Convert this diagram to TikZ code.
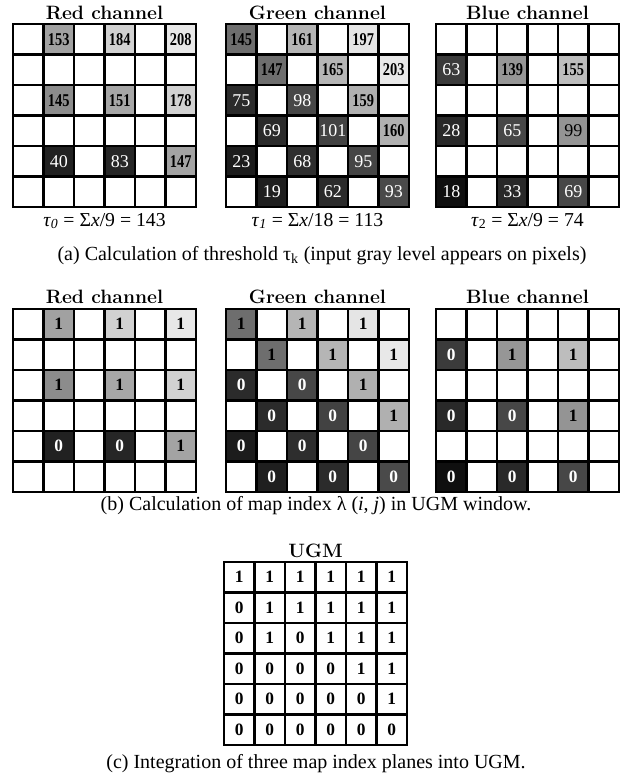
\documentclass[tikz,border=0pt]{standalone}
\usepackage{fontspec}
\newfontfamily\timesrm{Liberation Serif}
\newfontfamily\timescond[FakeStretch=0.8]{Liberation Serif}
\usetikzlibrary{positioning}

% one 6x6 window, cell side 30.5 px, origin at the top left corner
\newcommand{\pixgrid}{%
  \foreach \k in {0,...,6} {
    \draw[gridline] (\k*30.5,0) -- (\k*30.5,-183);
    \draw[gridline] (0,-\k*30.5) -- (183,-\k*30.5);
  }%
}

\tikzset{
  gridline/.style={line width=1.8pt, line cap=rect},
  chtitle/.style={anchor=base, inner sep=0pt, font=\fontsize{14.5}{16}\selectfont\bfseries},
  tautext/.style={anchor=base, inner sep=0pt, font=\timesrm\fontsize{14.8}{16}\selectfont},
  captext/.style={anchor=base, inner sep=0pt, font=\timesrm\fontsize{15}{17}\selectfont},
  numhi/.style={inner sep=0pt, font=\timescond\fontsize{13.5}{14}\selectfont\bfseries},
  numlo/.style={inner sep=0pt, text=white, font=\timesrm\fontsize{13.5}{14}\selectfont},
  numdk/.style={inner sep=0pt, font=\timesrm\fontsize{13.5}{14}\selectfont},
  bithi/.style={inner sep=0pt, font=\timesrm\fontsize{13}{14}\selectfont\bfseries},
  bitlo/.style={inner sep=0pt, text=white, font=\timesrm\fontsize{13}{14}\selectfont\bfseries}
}

\begin{document}
\begin{tikzpicture}[x=0.75pt, y=0.75pt]
\useasboundingbox (0,0) rectangle (632,-776);

%% (a) threshold
\begin{scope}[shift={(13,-24)}]
  \foreach \c/\r/\g/\v/\s in {1/0/37/153/numhi, 3/0/18/184/numhi, 5/0/9/208/numhi,
      1/2/45/145/numhi, 3/2/35/151/numhi, 5/2/18/178/numhi,
      1/4/87/40/numlo, 3/4/85/83/numlo, 5/4/36/147/numhi} {
    \fill[black!\g] (\c*30.5,-\r*30.5) rectangle ++(30.5,-30.5);
    \node[\s] (ra-\c-\r) at (\c*30.5+15.25,-\r*30.5-15.25) {\v};
  }
  \pixgrid
  \node[chtitle] (ra-title) at (91.5,5) {Red channel};
  \node[tautext] (ra-tau) at (91.5,-202) {\textit{τ}\textsubscript{\textit{0}} = Σ\textit{x}/9 = 143};
\end{scope}

\begin{scope}[shift={(226,-24)}]
  \foreach \c/\r/\g/\v/\s in {0/0/57/145/numhi, 2/0/29/161/numhi, 4/0/10/197/numhi,
      1/1/57/147/numhi, 3/1/29/165/numhi, 5/1/9/203/numhi,
      0/2/83/75/numlo, 2/2/72/98/numlo, 4/2/31/159/numhi,
      1/3/83/69/numlo, 3/3/74/101/numlo, 5/3/31/160/numhi,
      0/4/89/23/numlo, 2/4/82/68/numlo, 4/4/73/95/numlo,
      1/5/88/19/numlo, 3/5/83/62/numlo, 5/5/71/93/numlo} {
    \fill[black!\g] (\c*30.5,-\r*30.5) rectangle ++(30.5,-30.5);
    \node[\s] (ga-\c-\r) at (\c*30.5+15.25,-\r*30.5-15.25) {\v};
  }
  \pixgrid
  \node[chtitle] (ga-title) at (91.5,5) {Green channel};
  \node[tautext] (ga-tau) at (91.5,-202) {\textit{τ}\textsubscript{\textit{1}} = Σ\textit{x}/18 = 113};
\end{scope}

\begin{scope}[shift={(436,-24)}]
  \foreach \c/\r/\g/\v/\s in {0/1/77/63/numlo, 2/1/41/139/numhi, 4/1/26/155/numhi,
      0/3/84/28/numlo, 2/3/72/65/numlo, 4/3/42/99/numdk,
      0/5/94/18/numlo, 2/5/84/33/numlo, 4/5/72/69/numlo} {
    \fill[black!\g] (\c*30.5,-\r*30.5) rectangle ++(30.5,-30.5);
    \node[\s] (ba-\c-\r) at (\c*30.5+15.25,-\r*30.5-15.25) {\v};
  }
  \pixgrid
  \node[chtitle] (ba-title) at (91.5,5) {Blue channel};
  \node[tautext] (ba-tau) at (91.5,-202) {\textit{τ}\textsubscript{2} = Σ\textit{x}/9 = 74};
\end{scope}

\node[captext] (cap-a) at (322,-260) {(a) Calculation of threshold τ\textsubscript{k} (input gray level appears on pixels)};

%% (b) map index
\begin{scope}[shift={(13,-309)}]
  \foreach \c/\r/\g/\v/\s in {1/0/37/1/bithi, 3/0/18/1/bithi, 5/0/9/1/bithi,
      1/2/45/1/bithi, 3/2/35/1/bithi, 5/2/18/1/bithi,
      1/4/87/0/bitlo, 3/4/85/0/bitlo, 5/4/36/1/bithi} {
    \fill[black!\g] (\c*30.5,-\r*30.5) rectangle ++(30.5,-30.5);
    \node[\s] (rb-\c-\r) at (\c*30.5+15.25,-\r*30.5-15.25) {\v};
  }
  \pixgrid
  \node[chtitle] (rb-title) at (91.5,6) {Red channel};
\end{scope}

\begin{scope}[shift={(226,-309)}]
  \foreach \c/\r/\g/\v/\s in {0/0/57/1/bithi, 2/0/29/1/bithi, 4/0/10/1/bithi,
      1/1/57/1/bithi, 3/1/29/1/bithi, 5/1/9/1/bithi,
      0/2/83/0/bitlo, 2/2/72/0/bitlo, 4/2/31/1/bithi,
      1/3/83/0/bitlo, 3/3/74/0/bitlo, 5/3/31/1/bithi,
      0/4/89/0/bitlo, 2/4/82/0/bitlo, 4/4/73/0/bitlo,
      1/5/88/0/bitlo, 3/5/83/0/bitlo, 5/5/71/0/bitlo} {
    \fill[black!\g] (\c*30.5,-\r*30.5) rectangle ++(30.5,-30.5);
    \node[\s] (gb-\c-\r) at (\c*30.5+15.25,-\r*30.5-15.25) {\v};
  }
  \pixgrid
  \node[chtitle] (gb-title) at (91.5,6) {Green channel};
\end{scope}

\begin{scope}[shift={(436,-309)}]
  \foreach \c/\r/\g/\v/\s in {0/1/77/0/bitlo, 2/1/41/1/bithi, 4/1/26/1/bithi,
      0/3/84/0/bitlo, 2/3/72/0/bitlo, 4/3/42/1/bithi,
      0/5/94/0/bitlo, 2/5/84/0/bitlo, 4/5/72/0/bitlo} {
    \fill[black!\g] (\c*30.5,-\r*30.5) rectangle ++(30.5,-30.5);
    \node[\s] (bb-\c-\r) at (\c*30.5+15.25,-\r*30.5-15.25) {\v};
  }
  \pixgrid
  \node[chtitle] (bb-title) at (91.5,6) {Blue channel};
\end{scope}

\node[captext] (cap-b) at (316,-510) {(b) Calculation of map index λ (\textit{i}, \textit{j}) in UGM window.};

%% (c) UGM
\begin{scope}[shift={(224,-562)}]
  \foreach \row [count=\r from 0] in {{1,1,1,1,1,1}, {0,1,1,1,1,1}, {0,1,0,1,1,1},
      {0,0,0,0,1,1}, {0,0,0,0,0,1}, {0,0,0,0,0,0}} {
    \foreach \v [count=\c from 0] in \row
      \node[bithi] (ugm-\c-\r) at (\c*30.5+15.25,-\r*30.5-15.25) {\v};
  }
  \pixgrid
  \node[chtitle] (ugm-title) at (91.5,5) {UGM};
\end{scope}

\node[captext] (cap-c) at (316,-768) {(c) Integration of three map index planes into UGM.};
\end{tikzpicture}
\end{document}
